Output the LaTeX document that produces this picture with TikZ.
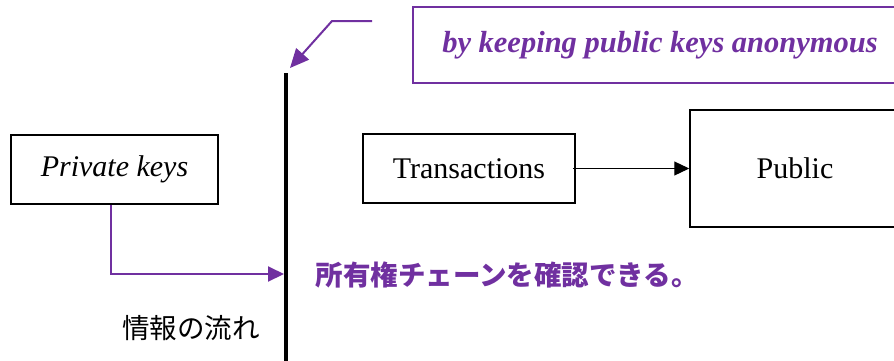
\documentclass[tikz,border=0pt]{standalone}
\usepackage{fontspec}
\setmainfont{Liberation Serif}
\newfontfamily\cjk{Noto Sans CJK JP}
\usetikzlibrary{arrows.meta}
\definecolor{ppl}{HTML}{7030A0}
\tikzset{
  blackbox/.style={draw=black, line width=1.5pt, rectangle, inner sep=0pt, font=\fontsize{30}{35}\selectfont},
  purplebox/.style={draw=ppl, line width=2pt, rectangle, inner sep=0pt, text=ppl, font=\fontsize{30.5}{35}\selectfont\bfseries\itshape},
  parrow/.style={draw=ppl, line width=2pt, -{Triangle[length=16pt,width=15pt]}},
  toparrow/.style={draw=ppl, line width=2pt, -{Triangle[length=19pt,width=17pt]}},
  barrow/.style={draw=black, line width=1.2pt, -{Triangle[length=15pt,width=14pt]}},
}
\begin{document}
\begin{tikzpicture}[x=1pt,y=-1pt]
\useasboundingbox (0,0) rectangle (894,360);
% nodes
\node[blackbox, minimum width=207pt, minimum height=69pt] (pk) at (114.5,169.5) {\itshape Private keys};
\node[blackbox, minimum width=212pt, minimum height=69pt] (tx) at (469,168.5) {Transactions};
\node[blackbox, minimum width=210pt, minimum height=117pt] (pub) at (795,168.5) {Public};
\node[purplebox, minimum width=494pt, minimum height=76pt] (anon) at (660,45) {by keeping public keys anonymous};
\node[text=ppl, font=\fontsize{27.5}{32}\cjk\bfseries, anchor=west] (own) at (312,275) {所有権チェーンを確認できる。};
\node[text=black, font=\fontsize{27.5}{32}\cjk, anchor=center] (flow) at (191,328) {情報の流れ};
% vertical line
\coordinate (vtop) at (286,73);
\coordinate (vbot) at (286,364);
\draw[line width=4pt] (vtop) -- (vbot);
% elbow arrow
\coordinate (etip) at (284,274);
\draw[parrow] ([xshift=-3.5pt]pk.south) |- (etip);
% top arrow
\coordinate (ts) at (372,21);
\coordinate (tc) at (332,21);
\coordinate (tt) at (290,68);
\draw[toparrow] (ts) -- (tc) -- (tt);
% transactions -> public
\draw[barrow] ([xshift=-3pt]tx.east) -- (pub.west);
\end{tikzpicture}
\end{document}
